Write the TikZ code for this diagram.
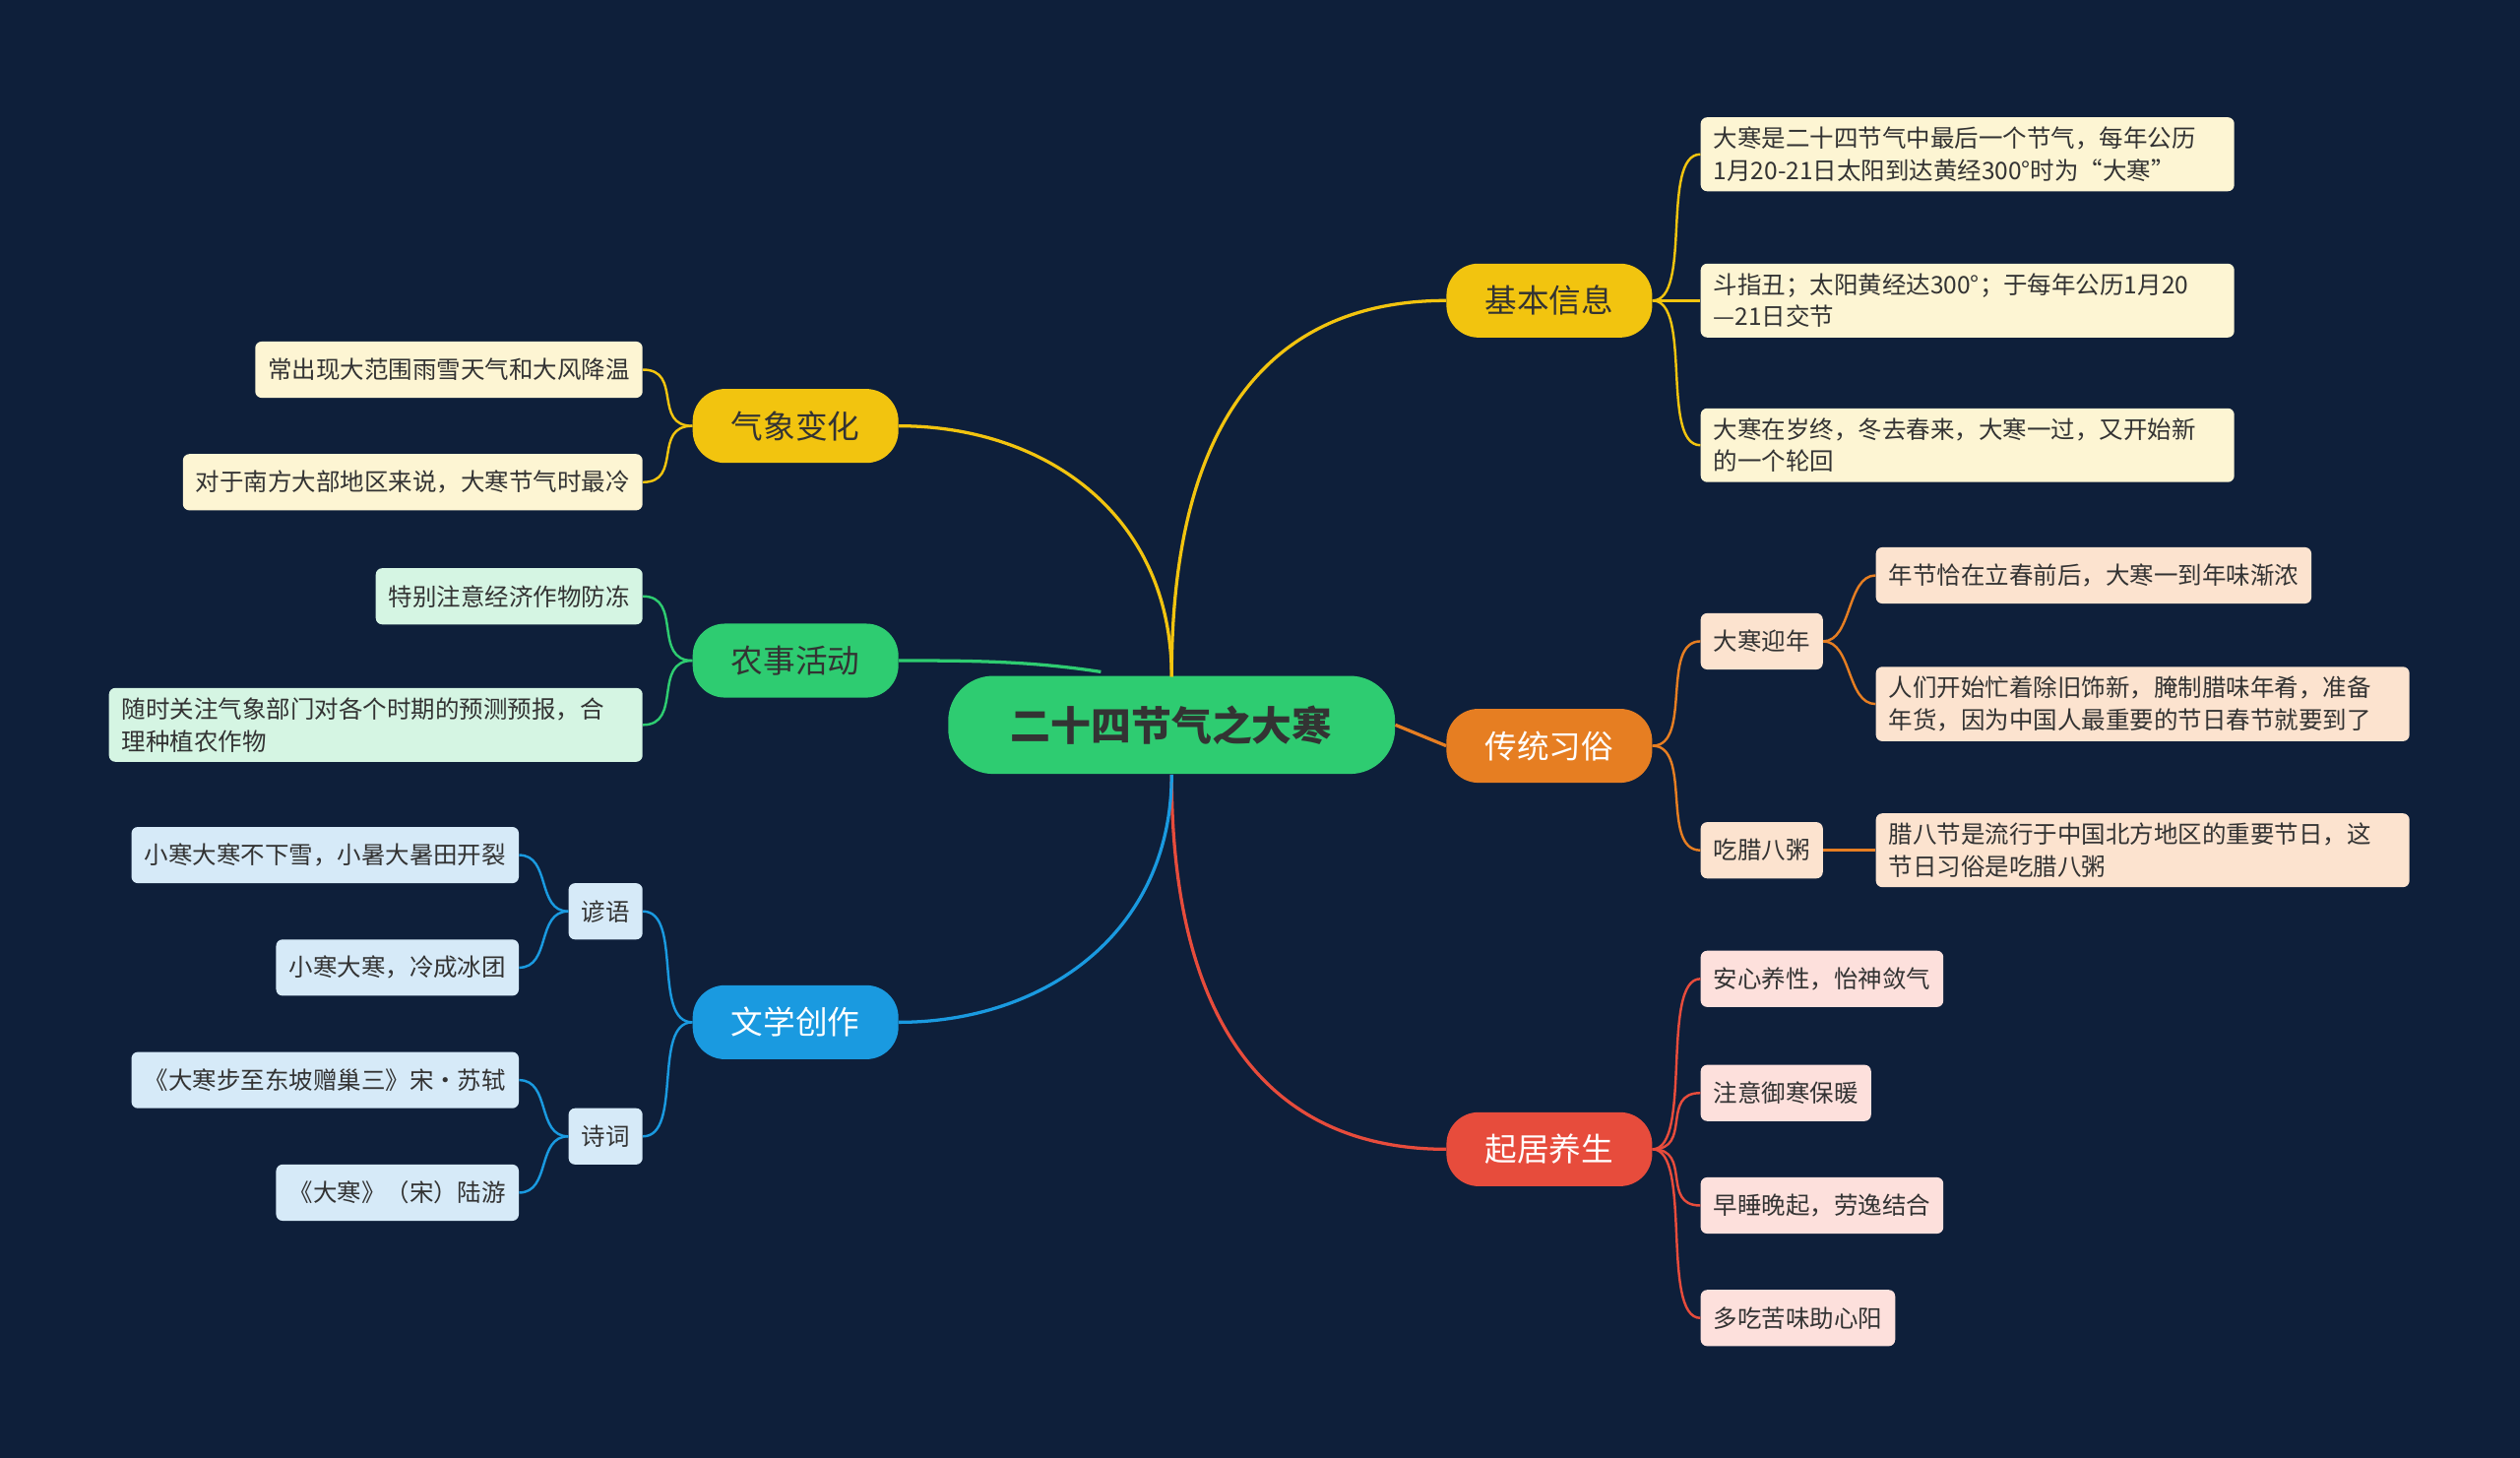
\documentclass[tikz,border=0pt]{standalone}
\usepackage{fontspec}
\usetikzlibrary{calc}
\setmainfont{Noto Sans CJK SC}
\definecolor{bg}{HTML}{0E1F3A}
\definecolor{cy}{HTML}{F2C40F}
\definecolor{cg}{HTML}{2ECC71}
\definecolor{cb}{HTML}{1A9AE0}
\definecolor{co}{HTML}{E67E22}
\definecolor{cr}{HTML}{E74C3C}
\definecolor{py}{HTML}{FDF5D3}
\definecolor{pg}{HTML}{D5F5E3}
\definecolor{pb}{HTML}{D6EAF8}
\definecolor{po}{HTML}{FCE3CF}
\definecolor{pr}{HTML}{FDE0DC}
\definecolor{tx}{HTML}{333333}
\begin{document}
\begin{tikzpicture}[x=1pt,y=-1pt,
  main/.style={rounded corners=20pt,minimum width=128pt,minimum height=46pt,font=\fontsize{20}{24}\selectfont},
  leaf/.style={rounded corners=4pt,inner xsep=8pt,inner ysep=6pt,minimum height=35pt,align=left,text=tx,font=\fontsize{15}{20}\selectfont},
  lk/.style={line width=2pt}]
\fill[bg] (0,0) rectangle (1568,907);
\useasboundingbox (0,0) rectangle (1568,907);
% center
\node[fill=cg,rounded corners=28pt,minimum width=278pt,minimum height=61pt,text=tx,font=\fontsize{25}{30}\selectfont\bfseries] (c) at (729,451) {二十四节气之大寒};
\coordinate (ct) at (729,421);
\coordinate (cb2) at (729,482);
% main branches
\node[main,fill=cy,text=tx] (b1) at (964,187) {基本信息};
\node[main,fill=co,text=white] (b2) at (964,464) {传统习俗};
\node[main,fill=cr,text=white] (b3) at (964,715) {起居养生};
\node[main,fill=cy,text=tx] (b4) at (495,265) {气象变化};
\node[main,fill=cg,text=tx] (b5) at (495,411) {农事活动};
\node[main,fill=cb,text=white] (b6) at (495,636) {文学创作};
\begin{scope}[lk]
\draw[cy] (ct) .. controls (729,250) and (800,187) .. (b1.west);
\draw[co] (c.east) -- (b2.west);
\draw[cr] (cb2) .. controls (729,650) and (800,715) .. (b3.west);
\draw[cy] (ct) .. controls (729,320) and (650,265) .. (b4.east);
\draw[cg] (685,418) .. controls (640,411) and (600,411) .. (b5.east);
\draw[cb] (cb2) .. controls (729,580) and (650,636) .. (b6.east);
\end{scope}
% right leaves
\node[leaf,fill=py,anchor=west,minimum width=332pt,text width=316pt] (l1) at (1058,96) {大寒是二十四节气中最后一个节气，每年公历\\1月20-21日太阳到达黄经300°时为“大寒”};
\node[leaf,fill=py,anchor=west,minimum width=332pt,text width=316pt] (l2) at (1058,187) {斗指丑；太阳黄经达300°；于每年公历1月20\\—21日交节};
\node[leaf,fill=py,anchor=west,minimum width=332pt,text width=316pt] (l3) at (1058,277) {大寒在岁终，冬去春来，大寒一过，又开始新\\的一个轮回};
\node[leaf,fill=po,anchor=west] (s1) at (1058,399) {大寒迎年};
\node[leaf,fill=po,anchor=west] (s2) at (1058,529) {吃腊八粥};
\node[leaf,fill=po,anchor=west] (o1) at (1167,358) {年节恰在立春前后，大寒一到年味渐浓};
\node[leaf,fill=po,anchor=west,text width=316pt] (o2) at (1167,438) {人们开始忙着除旧饰新，腌制腊味年肴，准备\\年货，因为中国人最重要的节日春节就要到了};
\node[leaf,fill=po,anchor=west,text width=316pt] (o3) at (1167,529) {腊八节是流行于中国北方地区的重要节日，这\\节日习俗是吃腊八粥};
\node[leaf,fill=pr,anchor=west] (r1) at (1058,609) {安心养性，怡神敛气};
\node[leaf,fill=pr,anchor=west] (r2) at (1058,680) {注意御寒保暖};
\node[leaf,fill=pr,anchor=west] (r3) at (1058,750) {早睡晚起，劳逸结合};
\node[leaf,fill=pr,anchor=west] (r4) at (1058,820) {多吃苦味助心阳};
% left leaves
\node[leaf,fill=py,anchor=east] (y1) at (400,230) {常出现大范围雨雪天气和大风降温};
\node[leaf,fill=py,anchor=east] (y2) at (400,300) {对于南方大部地区来说，大寒节气时最冷};
\node[leaf,fill=pg,anchor=east] (g1) at (400,371) {特别注意经济作物防冻};
\node[leaf,fill=pg,anchor=east,text width=316pt] (g2) at (400,451) {随时关注气象部门对各个时期的预测预报，合\\理种植农作物};
\node[leaf,fill=pb,anchor=east] (w1) at (400,567) {谚语};
\node[leaf,fill=pb,anchor=east] (w2) at (400,707) {诗词};
\node[leaf,fill=pb,anchor=east] (p1) at (323,532) {小寒大寒不下雪，小暑大暑田开裂};
\node[leaf,fill=pb,anchor=east] (p2) at (323,602) {小寒大寒，冷成冰团};
\node[leaf,fill=pb,anchor=east] (p3) at (323,672) {《大寒步至东坡赠巢三》宋·苏轼};
\node[leaf,fill=pb,anchor=east] (p4) at (323,742) {《大寒》（宋）陆游};
% brackets
\begin{scope}[line width=1.5pt]
\foreach \t in {l1,l2,l3} \draw[cy] (b1.east) .. controls ($(b1.east)+(25,0)$) and ($(\t.west)+(-25,0)$) .. (\t.west);
\foreach \t in {s1,s2} \draw[co] (b2.east) .. controls ($(b2.east)+(25,0)$) and ($(\t.west)+(-25,0)$) .. (\t.west);
\draw[co] (s1.east) .. controls ($(s1.east)+(18,0)$) and ($(o1.west)+(-18,0)$) .. (o1.west);
\draw[co] (s1.east) .. controls ($(s1.east)+(18,0)$) and ($(o2.west)+(-18,0)$) .. (o2.west);
\draw[co] (s2.east) -- (o3.west);
\foreach \t in {r1,r2,r3,r4} \draw[cr] (b3.east) .. controls ($(b3.east)+(25,0)$) and ($(\t.west)+(-25,0)$) .. (\t.west);
\foreach \t in {y1,y2} \draw[cy] (b4.west) .. controls ($(b4.west)+(-25,0)$) and ($(\t.east)+(25,0)$) .. (\t.east);
\foreach \t in {g1,g2} \draw[cg] (b5.west) .. controls ($(b5.west)+(-25,0)$) and ($(\t.east)+(25,0)$) .. (\t.east);
\foreach \t in {w1,w2} \draw[cb] (b6.west) .. controls ($(b6.west)+(-25,0)$) and ($(\t.east)+(25,0)$) .. (\t.east);
\foreach \t in {p1,p2} \draw[cb] (w1.west) .. controls ($(w1.west)+(-20,0)$) and ($(\t.east)+(20,0)$) .. (\t.east);
\foreach \t in {p3,p4} \draw[cb] (w2.west) .. controls ($(w2.west)+(-20,0)$) and ($(\t.east)+(20,0)$) .. (\t.east);
\end{scope}
\end{tikzpicture}
\end{document}
